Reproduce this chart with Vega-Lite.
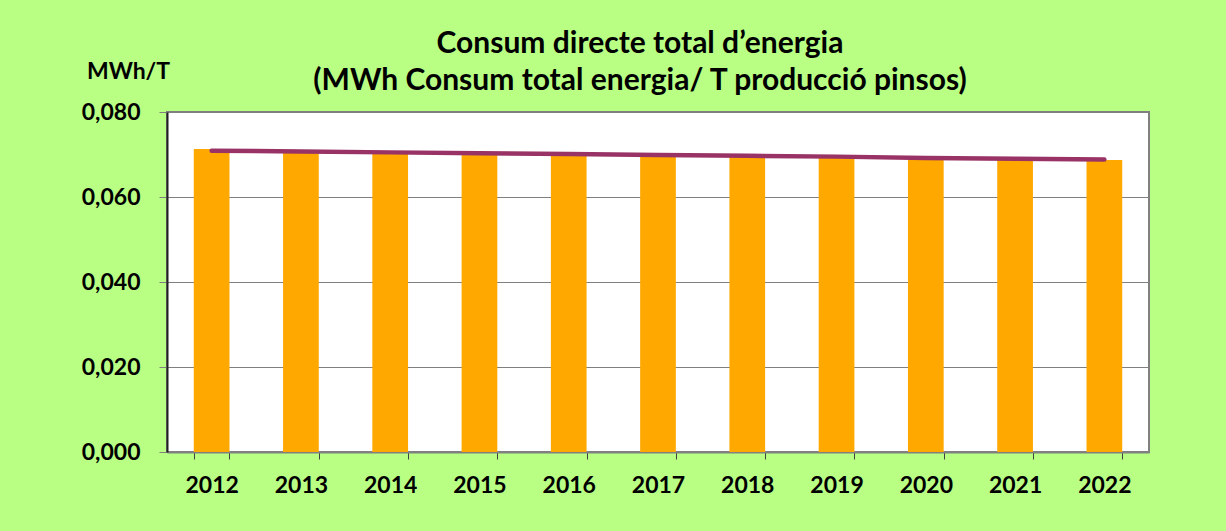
{
  "$schema": "https://vega.github.io/schema/vega-lite/v6.json",
  "width": 982,
  "height": 340,
  "autosize": "none",
  "padding": {"left": 167, "top": 112, "right": 77, "bottom": 79},
  "background": "#B8FF84",
  "title": {
    "text": ["Consum directe total d’energia", "(MWh Consum total energia/ T producció pinsos)"],
    "font": "Lato",
    "fontSize": 30,
    "fontWeight": "bold",
    "color": "#000000",
    "anchor": "middle",
    "dx": -18,
    "lineHeight": 37,
    "offset": -36
  },
  "data": {
    "values": [
      {"year": "2012", "value": 0.0713, "trend": 0.0709},
      {"year": "2013", "value": 0.0704, "trend": 0.0707},
      {"year": "2014", "value": 0.0702, "trend": 0.0705},
      {"year": "2015", "value": 0.0700, "trend": 0.0703},
      {"year": "2016", "value": 0.0698, "trend": 0.0701},
      {"year": "2017", "value": 0.0696, "trend": 0.0699},
      {"year": "2018", "value": 0.0694, "trend": 0.0697},
      {"year": "2019", "value": 0.0692, "trend": 0.0695},
      {"year": "2020", "value": 0.0690, "trend": 0.0692},
      {"year": "2021", "value": 0.0688, "trend": 0.0690},
      {"year": "2022", "value": 0.0687, "trend": 0.0688}
    ]
  },
  "encoding": {
    "x": {
      "field": "year",
      "type": "ordinal",
      "scale": {"paddingInner": 0.6, "paddingOuter": 0.3},
      "axis": {
        "title": null,
        "labelAngle": 0,
        "labelFont": "Lato",
        "labelFontSize": 23,
        "labelFontWeight": "bold",
        "labelColor": "#000000",
        "labelPadding": 15,
        "tickBand": "extent",
        "tickSize": 7,
        "tickColor": "#404040",
        "domainColor": "#808080",
        "domainWidth": 2
      }
    }
  },
  "layer": [
    {
      "mark": {"type": "bar", "color": "#FFA800"},
      "encoding": {
        "y": {
          "field": "value",
          "type": "quantitative",
          "scale": {"domain": [0, 0.08], "nice": false},
          "axis": {
            "title": "MWh/T",
            "titleFont": "Lato",
            "titleFontSize": 23,
            "titleFontWeight": "bold",
            "titleColor": "#000000",
            "titleAngle": 0,
            "titleAlign": "center",
            "titleBaseline": "middle",
            "titleX": -39,
            "titleY": -41,
            "values": [0, 0.02, 0.04, 0.06, 0.08],
            "labelExpr": "replace(format(datum.value, '.3f'), '.', ',')",
            "labelFont": "Lato",
            "labelFontSize": 23,
            "labelFontWeight": "bold",
            "labelColor": "#000000",
            "labelPadding": 19,
            "tickSize": 8,
            "tickColor": "#808080",
            "domainColor": "#202020",
            "domainWidth": 2,
            "grid": true,
            "gridColor": "#808080",
            "gridWidth": 1
          }
        }
      }
    },
    {
      "mark": {"type": "line", "color": "#993366", "strokeWidth": 4.5, "strokeCap": "round"},
      "encoding": {
        "y": {"field": "trend", "type": "quantitative"}
      }
    }
  ],
  "config": {
    "view": {"fill": "#FFFFFF", "stroke": "#808080", "strokeWidth": 2}
  }
}
